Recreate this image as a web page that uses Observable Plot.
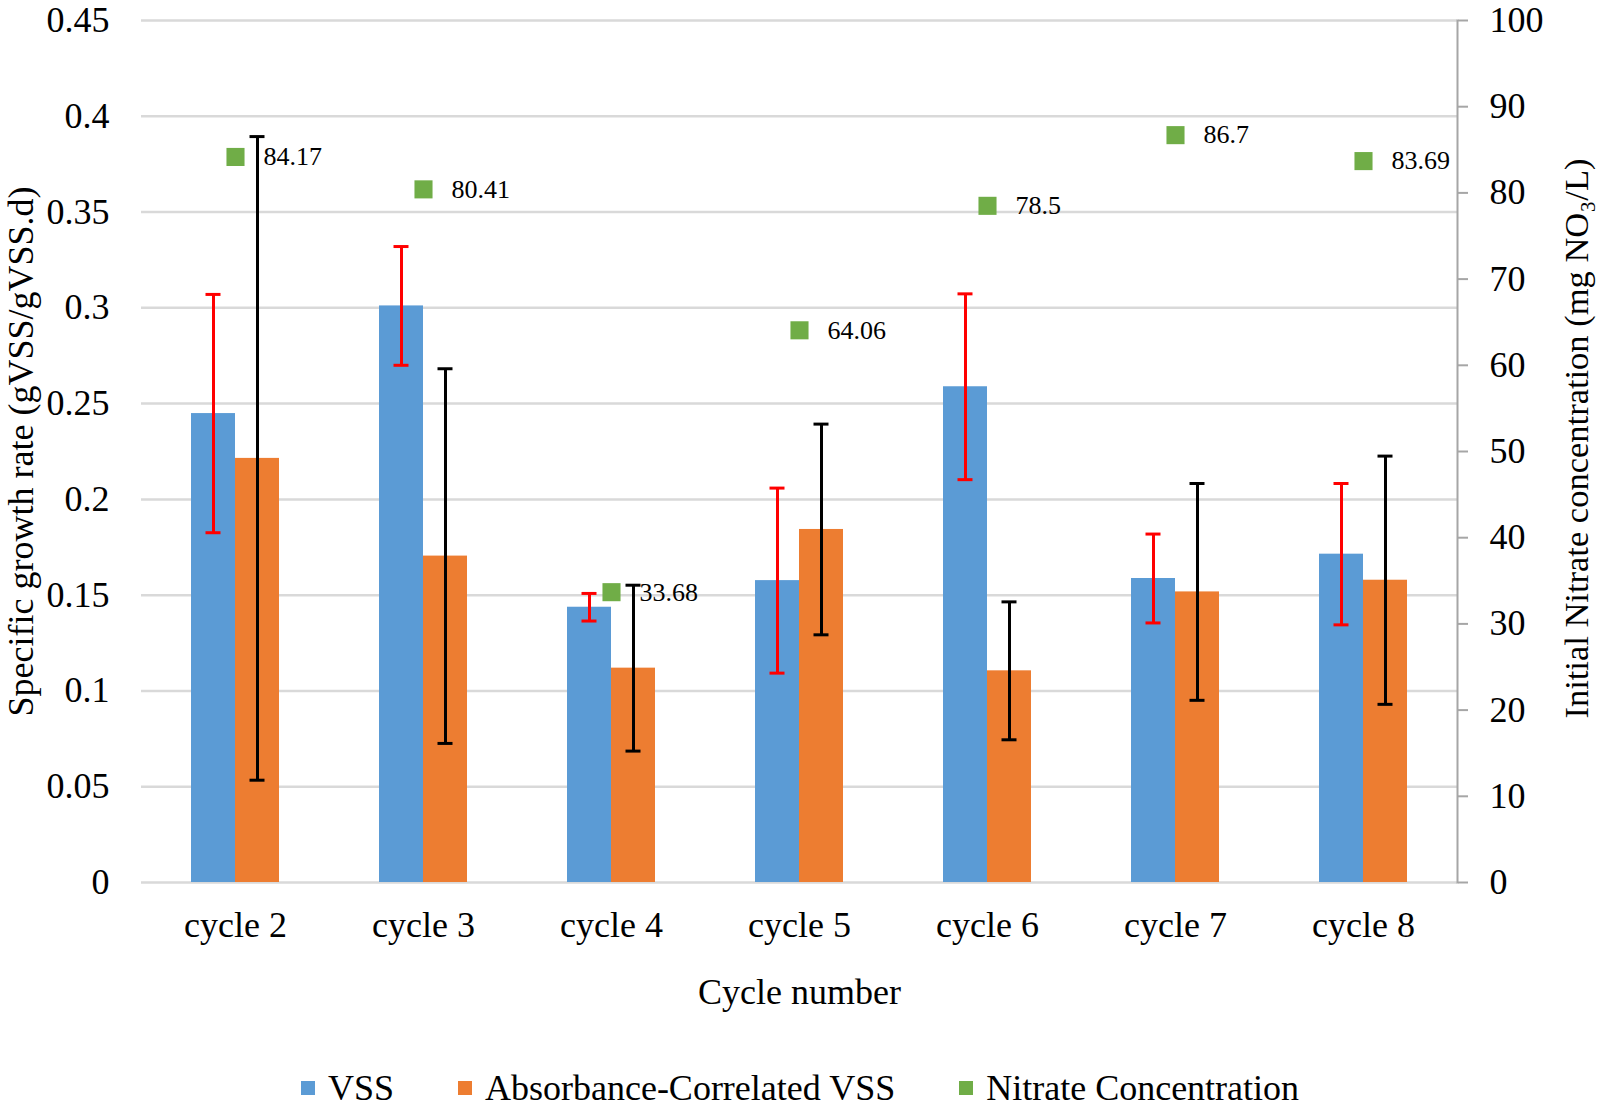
<!DOCTYPE html>
<html><head><meta charset="utf-8">
<script src="https://cdn.jsdelivr.net/npm/d3@7"></script>
<script src="https://cdn.jsdelivr.net/npm/@observablehq/plot@0.6"></script>
<style>
html,body{margin:0;padding:0;background:#fff;overflow:hidden;}
#chart svg{display:block;}
.legend{display:flex;justify-content:center;align-items:center;font-family:"Liberation Serif","Times New Roman",serif;font-size:36px;height:44px;line-height:44px;padding-top:6px;color:#000}
.item{display:flex;align-items:center;margin:0 32px}
.sw{width:14px;height:14px;margin-right:13px}
</style></head><body>
<div id="chart"></div>
<div class="legend" id="legend"></div>
<script>
// ---- data ----
const cycles = ["cycle 2", "cycle 3", "cycle 4", "cycle 5", "cycle 6", "cycle 7", "cycle 8"];
const seriesNames = ["VSS", "Absorbance-Correlated VSS"];
const vss = [0.2448, 0.301, 0.1437, 0.1576, 0.2588, 0.1587, 0.1714];
const vssErr = [0.0622, 0.031, 0.0072, 0.0483, 0.0485, 0.0232, 0.0369];
const absVss = [0.2214, 0.1704, 0.1119, 0.1843, 0.1105, 0.1517, 0.1578];
const absErr = [0.168, 0.0978, 0.0433, 0.055, 0.036, 0.0566, 0.0648];
const nitrate = [84.17, 80.41, 33.68, 64.06, 78.5, 86.7, 83.69];
const nitrateLabels = ["84.17", "80.41", "33.68", "64.06", "78.5", "86.7", "83.69"];
const leftTicks = [0, 0.05, 0.1, 0.15, 0.2, 0.25, 0.3, 0.35, 0.4, 0.45];
const leftTickLabels = ["0", "0.05", "0.1", "0.15", "0.2", "0.25", "0.3", "0.35", "0.4", "0.45"];
const rightTicks = [0, 10, 20, 30, 40, 50, 60, 70, 80, 90, 100];
const rightTickLabels = ["0", "10", "20", "30", "40", "50", "60", "70", "80", "90", "100"];
const leftMax = 0.45, rightMax = 100;
const leftTitle = "Specific growth rate (gVSS/gVSS.d)";
const rightTitle = "Initial Nitrate concentration (mg NO\u2083/L)";
const xTitle = "Cycle number";
const nitrateName = "Nitrate Concentration";
const colors = {VSS: "#5B9BD5", Abs: "#ED7D31", Nitrate: "#70AD47", vssErr: "#FF0000", absErr: "#000000"};

// ---- derived tables ----
const k = leftMax / rightMax; // right axis -> left axis conversion
const vssRows = cycles.map((c, i) => ({cycle: c, series: seriesNames[0], value: vss[i], err: vssErr[i]}));
const absRows = cycles.map((c, i) => ({cycle: c, series: seriesNames[1], value: absVss[i], err: absErr[i]}));
const nitRows = cycles.map((c, i) => ({cycle: c, value: nitrate[i], label: nitrateLabels[i]}));
const rightTicksScaled = rightTicks.map(v => v * k);

const font = "Liberation Serif, Times New Roman, serif";

function errMarks(rows, color) {
  return [
    Plot.ruleX(rows, {fx: "cycle", x: "series", y1: d => d.value - d.err, y2: d => d.value + d.err, stroke: color, strokeWidth: 3}),
    Plot.tickY(rows, {fx: "cycle", x: "series", y: d => d.value + d.err, stroke: color, strokeWidth: 3, insetLeft: 14.5, insetRight: 14.5}),
    Plot.tickY(rows, {fx: "cycle", x: "series", y: d => d.value - d.err, stroke: color, strokeWidth: 3, insetLeft: 14.5, insetRight: 14.5})
  ];
}

const chart = Plot.plot({
  width: 1600,
  height: 1060,
  marginLeft: 140,
  marginRight: 142,
  marginTop: 20,
  marginBottom: 178,
  style: {fontFamily: font, color: "#000", background: "#fff", overflow: "visible"},
  fx: {domain: cycles, padding: 0},
  x: {domain: seriesNames, paddingInner: 0, paddingOuter: 1.092, axis: null},
  y: {domain: [0, leftMax]},
  marks: [
    Plot.gridY(leftTicks, {stroke: "#D9D9D9", strokeOpacity: 1, strokeWidth: 2.5}),
    Plot.barY(vssRows, {fx: "cycle", x: "series", y: "value", fill: colors.VSS}),
    Plot.barY(absRows, {fx: "cycle", x: "series", y: "value", fill: colors.Abs}),
    ...errMarks(vssRows, colors.vssErr),
    ...errMarks(absRows, colors.absErr),
    Plot.dot(nitRows, {fx: "cycle", y: d => d.value * k, symbol: "square", r: 10.2, fill: colors.Nitrate}),
    Plot.text(nitRows, {fx: "cycle", y: d => d.value * k, text: "label", dx: 28, textAnchor: "start", fontSize: 26, fill: "#000"}),
    Plot.axisY(leftTicks, {
      anchor: "left", tickSize: 0, tickPadding: 32, fontSize: 36, fill: "#000",
      tickFormat: d => leftTickLabels[leftTicks.indexOf(d)],
      label: leftTitle, labelAnchor: "center", labelOffset: 134, labelArrow: "none"
    }),
    Plot.axisY(rightTicksScaled, {
      anchor: "right", tickSize: 10, tickPadding: 22, fontSize: 36, fill: "#000", stroke: "#A6A6A6", strokeWidth: 2,
      tickFormat: d => rightTickLabels[rightTicksScaled.indexOf(d)],
      label: null
    }),
    Plot.axisY([], {
      anchor: "right", tickSize: 0, fontSize: 34.5, fill: "#000",
      label: "\u00A0\u00A0\u00A0" + rightTitle, labelAnchor: "center", labelOffset: 130, labelArrow: "none"
    }),
    Plot.frame({anchor: "right", fx: [cycles[cycles.length - 1]], stroke: "#A6A6A6", strokeWidth: 2}),
    Plot.axisFx({
      anchor: "bottom", tickSize: 0, tickPadding: 29, fontSize: 36, fill: "#000",
      label: xTitle, labelAnchor: "center", labelOffset: 121
    })
  ]
});
document.getElementById("chart").appendChild(chart);

// ---- legend ----
const legendItems = [
  {name: seriesNames[0], color: colors.VSS},
  {name: seriesNames[1], color: colors.Abs},
  {name: nitrateName, color: colors.Nitrate}
];
const legend = d3.select("#legend");
legendItems.forEach(it => {
  const item = legend.append("div").attr("class", "item");
  item.append("div").attr("class", "sw").style("background", it.color);
  item.append("span").text(it.name);
});
</script>
</body></html>
